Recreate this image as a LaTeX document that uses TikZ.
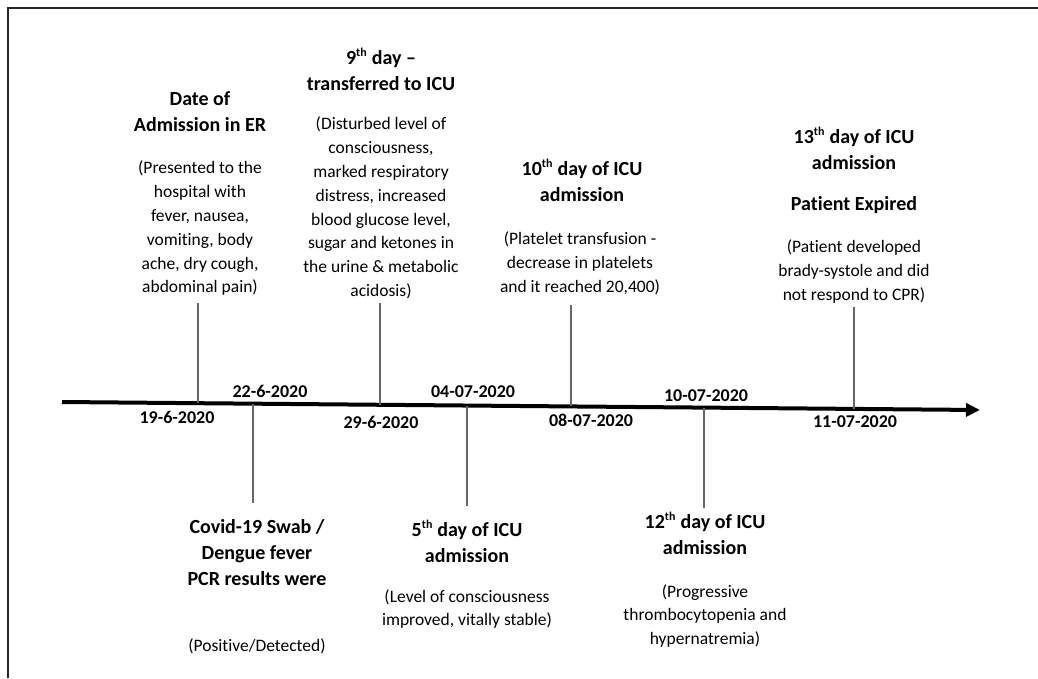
\documentclass[tikz,border=0pt]{standalone}
\usepackage{fontspec}
\setmainfont{Carlito}[Ligatures={NoCommon,TeX}]
\usetikzlibrary{arrows.meta}
\tikzset{
  head/.style={font=\bfseries\fontsize{20}{26.3}\selectfont,align=center,inner sep=0,anchor=north},
  body/.style={font=\fontsize{17.5}{23.8}\selectfont,align=center,inner sep=0,anchor=north},
  datelbl/.style={font=\bfseries\fontsize{18}{22}\selectfont,inner sep=0},
  tick/.style={draw=black!60,line width=1.2pt}
}
\newcommand{\nth}[1]{#1\textsuperscript{\fontsize{12}{12}\selectfont th}}
\begin{document}
\begin{tikzpicture}[x=1pt,y=-1pt]
\useasboundingbox (0,0) rectangle (1038,678);
\draw[line width=2pt,black!85] (8,678) -- (8,8) -- (1038,8);
\coordinate (axl) at (62,402);
\coordinate (axr) at (980,410);
\draw[line width=4pt,-{Triangle[length=14pt,width=13pt]}] (axl) -- (axr);
\node (e1h) [head] at (200,91) {Date of\\Admission in ER};
\node (e1b) [body] at (200,161) {(Presented to the\\hospital with\\fever, nausea,\\vomiting, body\\ache, dry cough,\\abdominal pain)};
\node (e3h) [head] at (381,48) {\nth{9} day --\\transferred to ICU};
\node (e3b) [body] at (381,117) {(Disturbed level of\\consciousness,\\marked respiratory\\distress, increased\\blood glucose level,\\sugar and ketones in\\the urine \& metabolic\\acidosis)};
\node (e5h) [head] at (582,159) {\nth{10} day of ICU\\admission};
\node (e5b) [body] at (580,232) {(Platelet transfusion -\\decrease in platelets\\and it reached 20,400)};
\node (e7h) [head] at (854,127) {\nth{13} day of ICU\\admission\\[15pt]Patient Expired};
\node (e7b) [body] at (854,240) {(Patient developed\\brady-systole and did\\not respond to CPR)};
\node (e2h) [head] at (257,519) {Covid-19 Swab /\\Dengue fever\\PCR results were};
\node (e2b) [body] at (257,638) {(Positive/Detected)};
\node (e4h) [head] at (467,520) {\nth{5} day of ICU\\admission};
\node (e4b) [body] at (467,589) {(Level of consciousness\\improved, vitally stable)};
\node (e6h) [head] at (705,512) {\nth{12} day of ICU\\admission};
\node (e6b) [body] at (705,584) {(Progressive\\thrombocytopenia and\\hypernatremia)};
\node (d1) [datelbl] at (177,417) {19-6-2020};
\node (d2) [datelbl] at (270,391) {22-6-2020};
\node (d3) [datelbl] at (381,422) {29-6-2020};
\node (d4) [datelbl] at (473,392) {04-07-2020};
\node (d5) [datelbl] at (591,420) {08-07-2020};
\node (d6) [datelbl] at (706,396) {10-07-2020};
\node (d7) [datelbl] at (855,422) {11-07-2020};
\coordinate (t1) at (198,303);
\coordinate (t2) at (253,503);
\coordinate (t3) at (380,303);
\coordinate (t4) at (467,506);
\coordinate (t5) at (571,305);
\coordinate (t6) at (704,508);
\coordinate (t7) at (854,307);
\draw[tick] (t1) -- (t1 |- 0,403.2);
\draw[tick] (t2) -- (t2 |- 0,403.7);
\draw[tick] (t3) -- (t3 |- 0,404.8);
\draw[tick] (t4) -- (t4 |- 0,405.5);
\draw[tick] (t5) -- (t5 |- 0,406.4);
\draw[tick] (t6) -- (t6 |- 0,407.6);
\draw[tick] (t7) -- (t7 |- 0,408.9);
\end{tikzpicture}
\end{document}
